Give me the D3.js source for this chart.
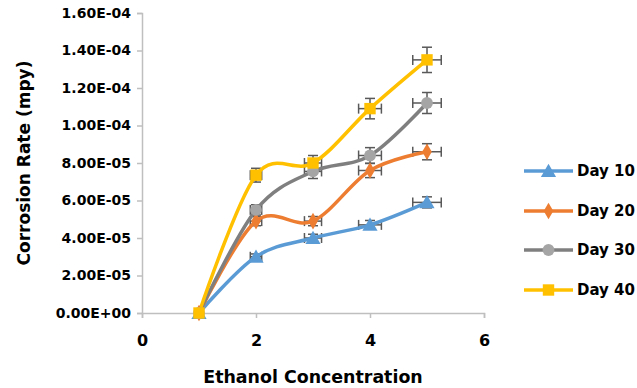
<!DOCTYPE html>
<html>
<head>
<meta charset="utf-8">
<script src="https://cdn.jsdelivr.net/npm/d3@7"></script>
<style>
  body { margin: 0; background: #fff; }
  text { font-family: "DejaVu Sans", sans-serif; font-weight: bold; fill: #000; }
</style>
</head>
<body>
<div id="chart"></div>
<script>
// chart data
const concentration = [1, 2, 3, 4, 5];
const day10 = [0, 3.0e-5, 4.0e-5, 4.7e-5, 5.9e-5];
const day20 = [0, 4.9e-5, 4.9e-5, 7.6e-5, 8.6e-5];
const day30 = [0, 5.5e-5, 7.55e-5, 8.4e-5, 1.12e-4];
const day40 = [0, 7.35e-5, 8.0e-5, 1.09e-4, 1.35e-4];
const seriesNames = ["Day 10", "Day 20", "Day 30", "Day 40"];
const errorPct = 0.05; // percentage error bars on both axes
const yTicks = [0, 2e-5, 4e-5, 6e-5, 8e-5, 1e-4, 1.2e-4, 1.4e-4, 1.6e-4];
const xTicks = [0, 2, 4, 6];

const width = 637, height = 388;
const margin = {left: 142, top: 13, right: 153, bottom: 75};

const svg = d3.select("#chart").append("svg")
    .attr("width", width)
    .attr("height", height);

const x = d3.scaleLinear().domain([0, 6]).range([margin.left, width - margin.right]);
const y = d3.scaleLinear().domain([0, 1.6e-4]).range([height - margin.bottom, margin.top]);

const colors = ["#5B9BD5", "#ED7D31", "#7F7F7F", "#FFC000"];
const markerFill = ["#5B9BD5", "#ED7D31", "#A5A5A5", "#FFC000"];
const symbols = [d3.symbolTriangle, d3.symbolDiamond, d3.symbolCircle, d3.symbolSquare];
const symSize = [100, 80, 110, 130];

const series = [day10, day20, day30, day40].map((vals, i) => ({
    name: seriesNames[i],
    points: concentration.map((c, j) => ({x: c, y: vals[j]}))
}));

// axes
const yAxis = svg.append("g")
    .attr("transform", `translate(${x(0)},0)`)
    .call(d3.axisLeft(y).tickValues(yTicks).tickSize(5).tickPadding(6)
        .tickFormat(d => {
            const s = d.toExponential(2).toUpperCase();
            return s.replace(/E([+-])(\d)$/, "E$10$2");
        }));
const xAxis = svg.append("g")
    .attr("transform", `translate(0,${y(0)})`)
    .call(d3.axisBottom(x).tickValues(xTicks).tickSize(5).tickPadding(17).tickFormat(d3.format("d")));

[yAxis, xAxis].forEach(g => {
    g.attr("font-family", null).attr("font-size", null);
    g.select(".domain").attr("stroke", "#BFBFBF").attr("stroke-width", 1.5);
    g.selectAll(".tick line").attr("stroke", "#BFBFBF").attr("stroke-width", 1.5);
    g.selectAll("text").attr("fill", "#000");
});
yAxis.selectAll("text").attr("font-size", 14);
xAxis.selectAll("text").attr("font-size", 16);

// error bars
const errG = svg.append("g");
series.forEach(s => {
    s.points.filter(p => p.y > 0).forEach(p => {
        const dy = p.y * errorPct, dx = p.x * errorPct;
        const cx = x(p.x), cy = y(p.y);
        const cap = 5;
        errG.append("line").attr("x1", cx).attr("x2", cx).attr("y1", y(p.y + dy)).attr("y2", y(p.y - dy));
        errG.append("line").attr("x1", cx - cap).attr("x2", cx + cap).attr("y1", y(p.y + dy)).attr("y2", y(p.y + dy));
        errG.append("line").attr("x1", cx - cap).attr("x2", cx + cap).attr("y1", y(p.y - dy)).attr("y2", y(p.y - dy));
        errG.append("line").attr("x1", x(p.x - dx)).attr("x2", x(p.x + dx)).attr("y1", cy).attr("y2", cy);
        errG.append("line").attr("x1", x(p.x - dx)).attr("x2", x(p.x - dx)).attr("y1", cy - cap).attr("y2", cy + cap);
        errG.append("line").attr("x1", x(p.x + dx)).attr("x2", x(p.x + dx)).attr("y1", cy - cap).attr("y2", cy + cap);
    });
});
errG.selectAll("line").attr("stroke", "#595959").attr("stroke-width", 1.5);

// lines and markers
const line = d3.line().x(d => x(d.x)).y(d => y(d.y)).curve(d3.curveCatmullRom.alpha(0));

series.forEach((s, i) => {
    svg.append("path")
        .datum(s.points)
        .attr("fill", "none")
        .attr("stroke", colors[i])
        .attr("stroke-width", 3.5)
        .attr("d", line);
});
series.forEach((s, i) => {
    svg.append("g").selectAll("path")
        .data(s.points)
        .enter().append("path")
        .attr("transform", d => `translate(${x(d.x)},${y(d.y) + (i === 0 ? 1.5 : 0)})`)
        .attr("d", d3.symbol().type(symbols[i]).size(symSize[i]))
        .attr("fill", markerFill[i]);
});

// legend
const legend = svg.append("g");
const legendY = [171, 211, 250, 290];
series.forEach((s, i) => {
    const g = legend.append("g").attr("transform", `translate(524,${legendY[i]})`);
    g.append("line").attr("x1", 0).attr("x2", 49).attr("stroke", colors[i]).attr("stroke-width", 3.5);
    g.append("path")
        .attr("transform", `translate(24.5,${i === 0 ? 1.5 : 0})`)
        .attr("d", d3.symbol().type(symbols[i]).size(symSize[i]))
        .attr("fill", markerFill[i]);
    g.append("text").attr("x", 53).attr("dy", "0.36em").attr("font-size", 15).text(s.name);
});

// axis titles
svg.append("text")
    .attr("transform", `translate(30,${(y(0) + y(1.6e-4)) / 2}) rotate(-90)`)
    .attr("text-anchor", "middle")
    .attr("font-size", 17)
    .text("Corrosion Rate (mpy)");
svg.append("text")
    .attr("x", 313)
    .attr("y", 383)
    .attr("text-anchor", "middle")
    .attr("font-size", 17.4)
    .text("Ethanol Concentration");
</script>
</body>
</html>
